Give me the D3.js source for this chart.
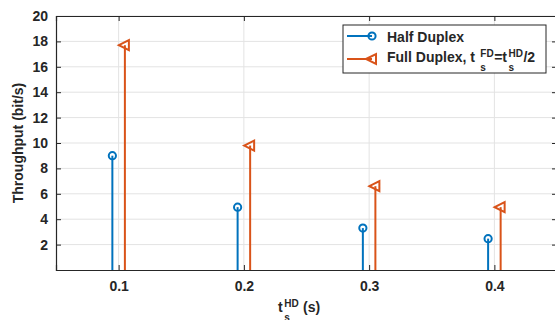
<!DOCTYPE html>
<html>
<head>
<meta charset="utf-8">
<script src="https://cdn.jsdelivr.net/npm/d3@7"></script>
<style>
  body { margin: 0; background: #fff; }
  text { font-family: "Liberation Sans", Arial, sans-serif; font-weight: bold; fill: #262626; white-space: pre; }
</style>
</head>
<body>
<div id="chart"></div>
<script>
var xValues = [0.1, 0.2, 0.3, 0.4];
var halfDuplex = [9.0, 4.95, 3.3, 2.47];
var fullDuplex = [17.7, 9.8, 6.6, 4.95];
var xTicks = [0.1, 0.2, 0.3, 0.4];
var yTicks = [2, 4, 6, 8, 10, 12, 14, 16, 18, 20];
var stemOffset = 0.005;

var blue = "#0072BD";
var orange = "#D95319";
var axisColor = "#262626";

var width = 555, height = 320;
var plotLeft = 56, plotTop = 16, plotRight = 557, plotBottom = 270;

var svg = d3.select("#chart").append("svg")
    .attr("width", width)
    .attr("height", height);

var xScale = d3.scaleLinear().domain([0.05, 0.45]).range([plotLeft, plotRight]);
var yScale = d3.scaleLinear().domain([0, 20]).range([plotBottom, plotTop]);

// grid
svg.append("g").selectAll("line")
    .data(xTicks).enter().append("line")
    .attr("x1", function (d) { return xScale(d); })
    .attr("x2", function (d) { return xScale(d); })
    .attr("y1", plotTop).attr("y2", plotBottom)
    .attr("stroke", "#e3e3e3").attr("stroke-width", 1);
svg.append("g").selectAll("line")
    .data(yTicks).enter().append("line")
    .attr("x1", plotLeft).attr("x2", plotRight)
    .attr("y1", function (d) { return yScale(d); })
    .attr("y2", function (d) { return yScale(d); })
    .attr("stroke", "#e3e3e3").attr("stroke-width", 1);

// axes (inward ticks, box)
var xAxisB = d3.axisBottom(xScale).tickValues(xTicks).tickSize(-5).tickPadding(11).tickFormat(d3.format(".1f"));
var xAxisT = d3.axisTop(xScale).tickValues(xTicks).tickSize(-5).tickFormat("");
var yAxisL = d3.axisLeft(yScale).tickValues(yTicks).tickSize(-5).tickPadding(8);
var yAxisR = d3.axisRight(yScale).tickValues(yTicks).tickSize(-5).tickFormat("");

function styleAxis(g) {
    g.select(".domain").attr("stroke", axisColor).attr("stroke-width", 1.2);
    g.selectAll(".tick line").attr("stroke", axisColor);
    g.selectAll(".tick text").attr("font-size", 14).attr("font-family", "Liberation Sans, Arial, sans-serif")
        .attr("font-weight", "bold").attr("fill", axisColor);
}
svg.append("g").attr("transform", "translate(0," + plotBottom + ")").call(xAxisB).call(styleAxis);
svg.append("g").attr("transform", "translate(0," + plotTop + ")").call(xAxisT).call(styleAxis);
svg.append("g").attr("transform", "translate(" + plotLeft + ",0)").call(yAxisL).call(styleAxis);
svg.append("g").attr("transform", "translate(" + plotRight + ",0)").call(yAxisR).call(styleAxis);

// stems
var hd = xValues.map(function (x, i) { return { x: x - stemOffset, y: halfDuplex[i] }; });
var fd = xValues.map(function (x, i) { return { x: x + stemOffset, y: fullDuplex[i] }; });

function triPath(cx, cy) {
    return "M" + (cx - 6) + "," + cy + "L" + (cx + 4) + "," + (cy - 5) + "L" + (cx + 4) + "," + (cy + 5) + "Z";
}

svg.append("g").selectAll("line")
    .data(hd).enter().append("line")
    .attr("x1", function (d) { return xScale(d.x); })
    .attr("x2", function (d) { return xScale(d.x); })
    .attr("y1", yScale(0))
    .attr("y2", function (d) { return yScale(d.y); })
    .attr("stroke", blue).attr("stroke-width", 2);
svg.append("g").selectAll("circle")
    .data(hd).enter().append("circle")
    .attr("cx", function (d) { return xScale(d.x); })
    .attr("cy", function (d) { return yScale(d.y); })
    .attr("r", 3.6)
    .attr("fill", "none").attr("stroke", blue).attr("stroke-width", 2);

svg.append("g").selectAll("line")
    .data(fd).enter().append("line")
    .attr("x1", function (d) { return xScale(d.x); })
    .attr("x2", function (d) { return xScale(d.x); })
    .attr("y1", yScale(0))
    .attr("y2", function (d) { return yScale(d.y); })
    .attr("stroke", orange).attr("stroke-width", 2);
svg.append("g").selectAll("path")
    .data(fd).enter().append("path")
    .attr("d", function (d) { return triPath(xScale(d.x), yScale(d.y)); })
    .attr("fill", "none").attr("stroke", orange).attr("stroke-width", 2);

// text with stacked sub/superscripts: pieces [{t} or {sub, sup}]
function richText(g, x, y, size, pieces) {
    var cx = x;
    pieces.forEach(function (p) {
        if (p.t) {
            var t = g.append("text").attr("x", cx).attr("y", y).attr("font-size", size).text(p.t);
            cx += t.node().getComputedTextLength();
        } else {
            var s = 10;
            var w = 0;
            cx += 1.5;
            if (p.sub) {
                var a = g.append("text").attr("x", cx).attr("y", y + 9).attr("font-size", s).text(p.sub);
                w = Math.max(w, a.node().getComputedTextLength());
            }
            if (p.sup) {
                var b = g.append("text").attr("x", cx).attr("y", y - 5.5).attr("font-size", s).text(p.sup);
                w = Math.max(w, b.node().getComputedTextLength());
            }
            cx += w + 0.5;
        }
    });
    return cx;
}

// axis labels
svg.append("text")
    .attr("transform", "translate(23," + ((plotTop + plotBottom) / 2) + ") rotate(-90)")
    .attr("text-anchor", "middle")
    .attr("font-size", 14)
    .text("Throughput (bit/s)");

var xl = svg.append("g");
richText(xl, 278, 312, 14, [{ t: "t" }, { sub: "s", sup: "HD" }, { t: "\u00a0(s)" }]);

// legend
var lg = svg.append("g");
lg.append("rect")
    .attr("x", 343).attr("y", 25).attr("width", 203).attr("height", 48)
    .attr("fill", "#fff").attr("stroke", axisColor).attr("stroke-width", 1);
lg.append("line").attr("x1", 347).attr("x2", 372).attr("y1", 36).attr("y2", 36)
    .attr("stroke", blue).attr("stroke-width", 2);
lg.append("circle").attr("cx", 372).attr("cy", 36).attr("r", 3.6)
    .attr("fill", "none").attr("stroke", blue).attr("stroke-width", 2);
lg.append("line").attr("x1", 347).attr("x2", 372).attr("y1", 59).attr("y2", 59)
    .attr("stroke", orange).attr("stroke-width", 2);
lg.append("path").attr("d", triPath(372, 59))
    .attr("fill", "none").attr("stroke", orange).attr("stroke-width", 2);

lg.append("text").attr("x", 387).attr("y", 42).attr("font-size", 14).text("Half Duplex");
richText(lg, 387, 62, 14, [{ t: "Full Duplex, t\u00a0" }, { sub: "s", sup: "FD" }, { t: "=t" }, { sub: "s", sup: "HD" }, { t: "/2" }]);
</script>
</body>
</html>
